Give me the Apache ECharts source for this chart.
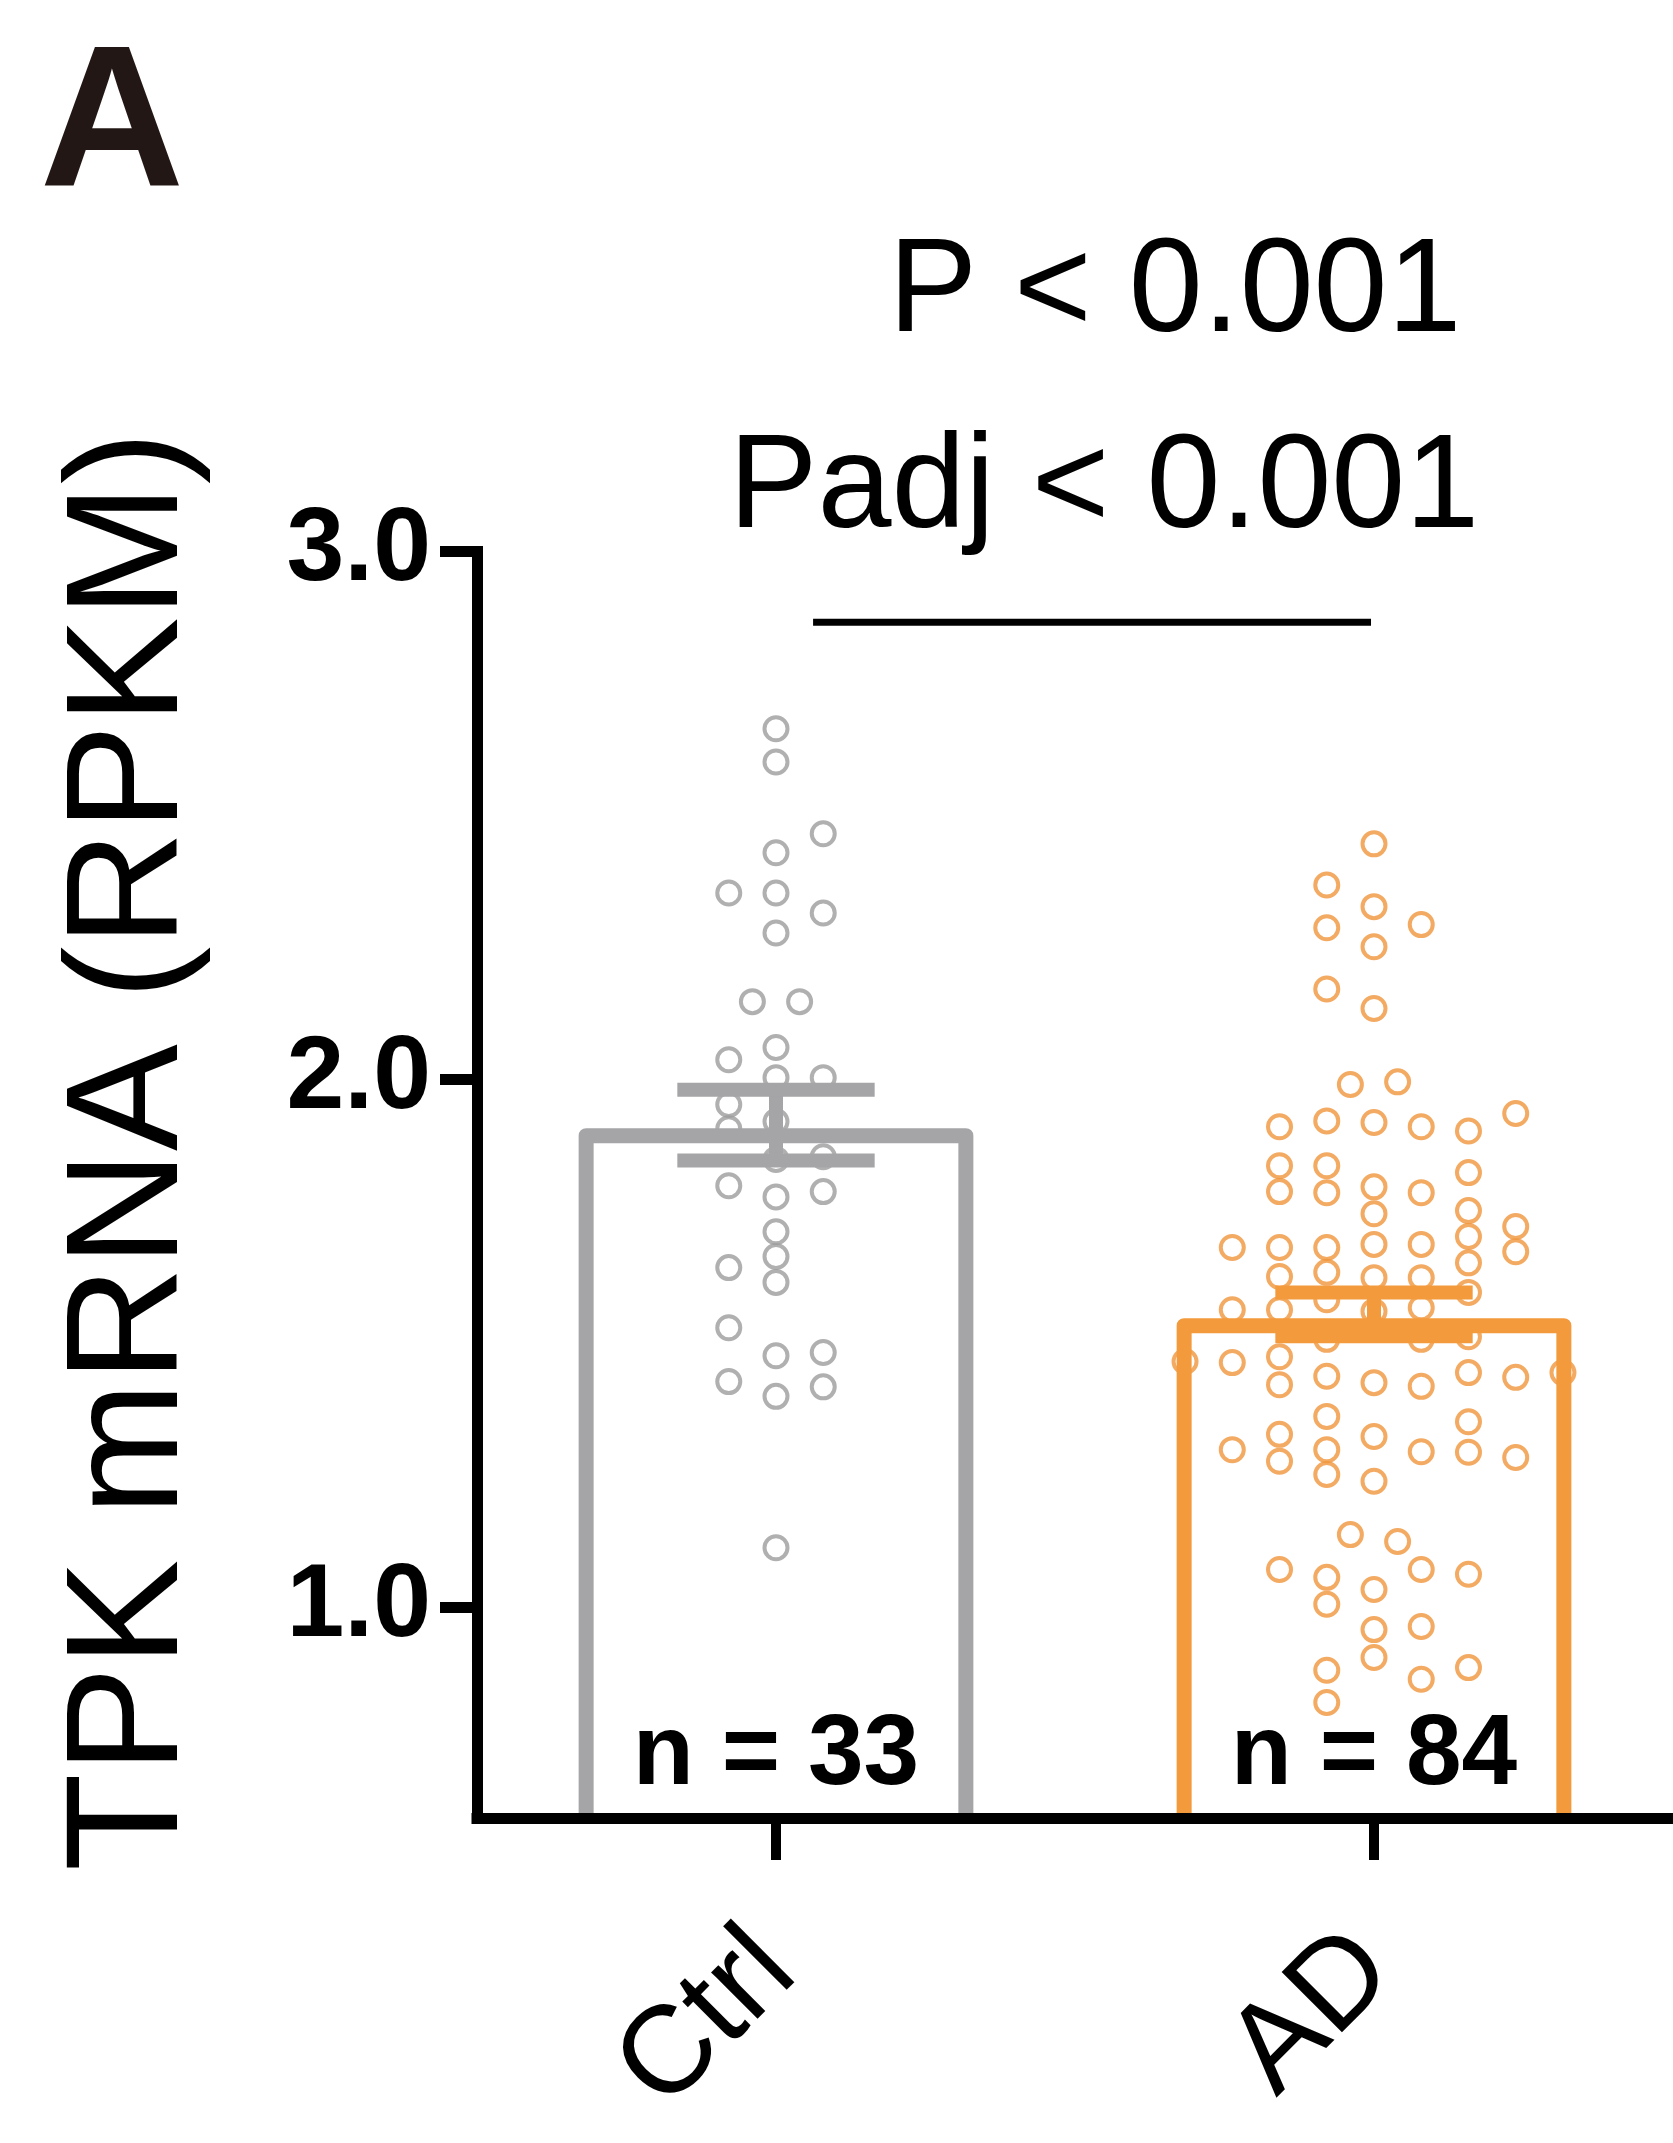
<!DOCTYPE html>
<html>
<head>
<meta charset="utf-8">
<title>TPK mRNA</title>
<script src="https://cdn.jsdelivr.net/npm/echarts@6/dist/echarts.min.js"></script>
<style>
html, body { margin: 0; padding: 0; background: #fff; }
#chart { width: 1673px; height: 2143px; }
</style>
</head>
<body>
<div id="chart"></div>
<script>
var groups = ['Ctrl', 'AD'];
var groupN = ['n = 33', 'n = 84'];
var barTops = [1.893, 1.533];
var errLow = [1.846, 1.513];
var errHigh = [1.980, 1.596];
var yTicks = [1, 2, 3];

// Ctrl points, column index = horizontal slot of the swarm
var ctrlValues = [2.664, 2.601, 2.465, 2.429, 2.353, 2.353, 2.315, 2.277, 2.147, 2.147,
  2.037, 2.060, 2.003, 2.003, 1.952, 1.906, 1.920, 1.848, 1.853, 1.798,
  1.777, 1.787, 1.711, 1.664, 1.643, 1.615, 1.529, 1.476, 1.482, 1.427,
  1.399, 1.417, 1.112];
var ctrlCols = [0, 0, 2, 0, -2, 0, 2, 0, -1, 1,
  -2, 0, 0, 2, -2, -2, 0, 0, 2, -2,
  0, 2, 0, 0, -2, 0, -2, 0, 2, -2,
  0, 2, 0];

var adValues = [2.446, 2.368, 2.327, 2.293, 2.287, 2.251, 2.171, 2.134, 1.990, 1.995,
  1.910, 1.921, 1.918, 1.910, 1.902, 1.935, 1.836, 1.836, 1.823, 1.787,
  1.785, 1.796, 1.785, 1.745, 1.751, 1.721, 1.681, 1.681, 1.681, 1.687,
  1.687, 1.702, 1.673, 1.652, 1.626, 1.634, 1.624, 1.624, 1.596, 1.563,
  1.563, 1.582, 1.560, 1.567, 1.507, 1.507, 1.512, 1.465, 1.444, 1.463,
  1.474, 1.421, 1.437, 1.425, 1.418, 1.444, 1.435, 1.361, 1.351, 1.298,
  1.327, 1.276, 1.298, 1.251, 1.323, 1.238, 1.294, 1.293, 1.283, 1.137,
  1.124, 1.071, 1.056, 1.005, 1.033, 1.071, 1.062, 0.957, 0.904, 0.963,
  0.880, 0.819, 0.863, 0.885];
var adCols = [0, -2, 0, 2, -2, 0, -2, 0, -1, 1,
  -4, -2, 0, 2, 4, 6, -4, -2, 4, -4,
  -2, 0, 2, 0, 4, 6, -6, -4, -2, 0,
  2, 4, 6, 4, -4, -2, 0, 2, 4, -6,
  -4, -2, 0, 2, -2, 2, 4, -8, 8, -6,
  -4, -4, -2, 0, 2, 4, 6, -2, 4, -6,
  -4, -4, -2, -2, 0, 0, 2, 4, 6, -1,
  1, -4, -2, -2, 0, 2, 4, 0, 0, 2,
  -2, -2, 2, 4];

var sigX = [0.562, 1.495];
var sigY = 2.866;
var pText = 'P < 0.001';
var padjText = 'Padj < 0.001';
var yTitle = 'TPK mRNA (RPKM)';

var yMin = 0.6, yMax = 3.0;
var colStep = 0.0395;
var barRatio = 0.635;
var capRatio = 0.33;
var barColors = ['#a5a5a8', '#f39a3d'];
var dotColors = ['#9c9c9e', '#f0953b'];
var font = "'Liberation Sans', Arial, sans-serif";
var narrow = "'Liberation Sans Narrow', 'Liberation Sans', Arial, sans-serif";

function swarm(values, cols, center) {
  var out = [];
  for (var i = 0; i < values.length; i++) {
    out.push([center + cols[i] * colStep, values[i]]);
  }
  return out;
}

function renderBar(params, api) {
  var idx = api.value(0);
  var top = api.coord([idx, api.value(1)]);
  var base = api.coord([idx, yMin]);
  var half = api.size([1, 0])[0] * barRatio / 2;
  return {
    type: 'polyline',
    shape: { points: [[top[0] - half, base[1]], [top[0] - half, top[1]], [top[0] + half, top[1]], [top[0] + half, base[1]]] },
    style: { fill: null, stroke: barColors[idx], lineWidth: 15, lineJoin: 'round' }
  };
}

function renderErr(params, api) {
  var idx = api.value(0);
  var lo = api.coord([idx, api.value(1)]);
  var hi = api.coord([idx, api.value(2)]);
  var half = api.size([1, 0])[0] * capRatio / 2;
  var st = { stroke: barColors[idx], lineWidth: 14 };
  return {
    type: 'group',
    children: [
      { type: 'line', shape: { x1: lo[0], y1: lo[1], x2: hi[0], y2: hi[1] }, style: st },
      { type: 'line', shape: { x1: lo[0] - half, y1: lo[1], x2: lo[0] + half, y2: lo[1] }, style: st },
      { type: 'line', shape: { x1: hi[0] - half, y1: hi[1], x2: hi[0] + half, y2: hi[1] }, style: st }
    ]
  };
}

function renderN(params, api) {
  var idx = api.value(0);
  var p = api.coord([idx, yMin]);
  return {
    type: 'text',
    style: {
      text: groupN[idx], x: p[0], y: p[1] - 62,
      align: 'center', verticalAlign: 'middle',
      textAlign: 'center', textVerticalAlign: 'middle',
      fontSize: 100, fontWeight: 'bold', fontFamily: font, fill: '#000'
    }
  };
}

var chart = echarts.init(document.getElementById('chart'));
var option = {
  animation: false,
  backgroundColor: '#fff',
  grid: { left: 477, top: 551.5, right: 0, bottom: 325 },
  xAxis: [
    {
      type: 'category',
      data: groups,
      boundaryGap: true,
      z: 5,
      axisLine: { onZero: false, lineStyle: { color: '#000', width: 11, cap: 'square' } },
      axisTick: { show: true, alignWithLabel: true, length: 42, lineStyle: { color: '#000', width: 10 } },
      axisLabel: { rotate: 45, margin: 134, fontSize: 124, color: '#000', fontFamily: font }
    },
    { type: 'value', min: 0, max: 2, show: false }
  ],
  yAxis: {
    type: 'value',
    min: yMin,
    max: yMax,
    z: 5,
    splitLine: { show: false },
    axisLine: { show: true, onZero: false, lineStyle: { color: '#000', width: 11, cap: 'square' } },
    axisTick: { show: true, length: 37, customValues: yTicks, lineStyle: { color: '#000', width: 11 } },
    axisLabel: {
      customValues: yTicks, margin: 46, fontSize: 104, fontWeight: 'bold', color: '#000', fontFamily: narrow,
      formatter: function (v) { return v.toFixed(1); }
    }
  },
  series: [
    {
      type: 'scatter', xAxisIndex: 1, z: 2,
      data: swarm(ctrlValues, ctrlCols, 0.5),
      symbol: 'circle', symbolSize: 23,
      itemStyle: { color: 'rgba(0,0,0,0)', borderColor: dotColors[0], borderWidth: 4 }
    },
    {
      type: 'scatter', xAxisIndex: 1, z: 2,
      data: swarm(adValues, adCols, 1.5),
      symbol: 'circle', symbolSize: 23,
      itemStyle: { color: 'rgba(0,0,0,0)', borderColor: dotColors[1], borderWidth: 4 }
    },
    {
      type: 'custom', xAxisIndex: 0, z: 3,
      renderItem: renderBar,
      data: [[0, barTops[0]], [1, barTops[1]]]
    },
    {
      type: 'custom', xAxisIndex: 0, z: 4,
      renderItem: renderErr,
      data: [[0, errLow[0], errHigh[0]], [1, errLow[1], errHigh[1]]]
    },
    {
      type: 'custom', xAxisIndex: 0, z: 4,
      renderItem: renderN,
      data: [[0, yMin], [1, yMin]]
    },
    {
      type: 'line', xAxisIndex: 1, z: 4,
      data: [[sigX[0], sigY], [sigX[1], sigY]],
      symbol: 'none',
      lineStyle: { color: '#000', width: 7 }
    }
  ],
  graphic: [
    {
      type: 'text', x: 112, y: 130,
      style: { text: 'A', fontSize: 200, fontWeight: 'bold', fontFamily: font, fill: '#221714', align: 'center', verticalAlign: 'middle' }
    },
    {
      type: 'text', x: 1175, y: 294,
      style: { text: pText, fontSize: 133, fontFamily: font, fill: '#000', align: 'center', verticalAlign: 'middle' }
    },
    {
      type: 'text', x: 1104, y: 490,
      style: { text: padjText, fontSize: 133, fontFamily: font, fill: '#000', align: 'center', verticalAlign: 'middle' }
    },
    {
      type: 'text', x: 133, y: 1151, rotation: Math.PI / 2,
      style: { text: yTitle, fontSize: 160, fontFamily: font, fill: '#000', align: 'center', verticalAlign: 'middle' }
    }
  ]
};
chart.setOption(option);
</script>
</body>
</html>
